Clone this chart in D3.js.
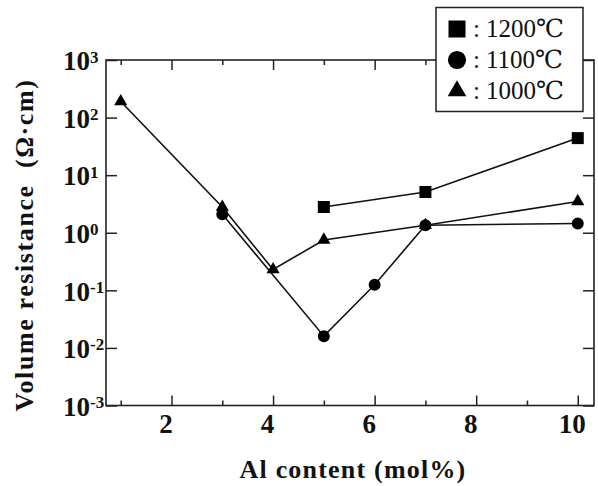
<!DOCTYPE html>
<html>
<head>
<meta charset="utf-8">
<script src="https://cdn.jsdelivr.net/npm/d3@7"></script>
<style>
  body { margin: 0; background: #fff; }
  svg { display: block; }
</style>
</head>
<body>
<div id="chart"></div>
<script>
// Valeurs
const series = ["1200℃", "1100℃", "1000℃"];
const x1200 = [5, 7, 10];
const v1200 = [2.8, 5.1, 44];
const x1100 = [3, 5, 6, 7, 10];
const v1100 = [2.1, 0.016, 0.125, 1.35, 1.45];
const x1000 = [1, 3, 4, 5, 7, 10];
const v1000 = [190, 2.8, 0.23, 0.75, 1.35, 3.5];
const xMajor = [2, 4, 6, 8, 10];
const xMinor = [1, 3, 5, 7, 9];
const yDecades = [-3, -2, -1, 0, 1, 2, 3];

const W = 598, H = 486;
const frame = { left: 106, right: 594, top: 60, bottom: 405.5 };
const serif = "'Liberation Serif', 'DejaVu Serif', serif";

const svg = d3.select("#chart").append("svg")
  .attr("width", W).attr("height", H);

svg.append("rect").attr("width", W).attr("height", H).attr("fill", "#fff");

const x = d3.scaleLinear().domain([0.71, 10.32]).range([frame.left, frame.right]);
const y = d3.scaleLog().domain([1e-3, 1e3]).range([frame.bottom, frame.top]);

// Cadre
svg.append("rect")
  .attr("x", frame.left).attr("y", frame.top)
  .attr("width", frame.right - frame.left)
  .attr("height", frame.bottom - frame.top)
  .attr("fill", "none").attr("stroke", "#222").attr("stroke-width", 1.6);

const styleAxis = (g) => {
  g.select(".domain").remove();
  g.selectAll(".tick line").attr("stroke", "#222").attr("stroke-width", 1.5);
};

// Axe X bas (graduations majeures avec libellés)
svg.append("g")
  .attr("transform", `translate(0,${frame.bottom})`)
  .call(d3.axisBottom(x).tickValues(xMajor).tickSize(-10).tickPadding(8).tickFormat(d3.format("d")))
  .call(styleAxis)
  .call((g) => g.selectAll(".tick text")
    .attr("x", -6)
    .attr("fill", "#111")
    .style("font-family", serif)
    .style("font-weight", "bold")
    .style("font-size", "27px"));

svg.append("g")
  .attr("transform", `translate(0,${frame.bottom})`)
  .call(d3.axisBottom(x).tickValues(xMinor).tickSize(-5).tickFormat(""))
  .call(styleAxis);

// Axe X haut
svg.append("g")
  .attr("transform", `translate(0,${frame.top})`)
  .call(d3.axisTop(x).tickValues(xMajor).tickSize(-10).tickFormat(""))
  .call(styleAxis);
svg.append("g")
  .attr("transform", `translate(0,${frame.top})`)
  .call(d3.axisTop(x).tickValues(xMinor).tickSize(-5).tickFormat(""))
  .call(styleAxis);

// Axe Y gauche avec libellés 10^n
const yLeft = svg.append("g")
  .attr("transform", `translate(${frame.left},0)`)
  .call(d3.axisLeft(y).tickValues(yDecades.map((e) => Math.pow(10, e))).tickSize(-11).tickFormat(""))
  .call(styleAxis);

yLeft.selectAll(".tick").each(function (d) {
  const e = Math.round(Math.log10(d));
  const t = d3.select(this).append("text")
    .attr("x", -43).attr("dy", "0.36em")
    .attr("text-anchor", "start")
    .attr("fill", "#111")
    .style("font-family", serif)
    .style("font-weight", "bold")
    .style("font-size", "27px");
  t.append("tspan").text("10");
  t.append("tspan")
    .attr("dy", "-0.45em")
    .style("font-size", "17px")
    .text(e < 0 ? "-" + Math.abs(e) : String(e));
});

// Axe Y droit
svg.append("g")
  .attr("transform", `translate(${frame.right},0)`)
  .call(d3.axisRight(y).tickValues(yDecades.map((e) => Math.pow(10, e))).tickSize(-11).tickFormat(""))
  .call(styleAxis);

// Titres des axes
svg.append("text")
  .attr("x", 353).attr("y", 478)
  .attr("text-anchor", "middle")
  .attr("fill", "#111")
  .style("font-family", serif)
  .style("font-weight", "bold")
  .style("font-size", "26px")
  .style("letter-spacing", "1.2px")
  .text("Al content (mol%)");

svg.append("text")
  .attr("transform", "translate(33,245) rotate(-90)")
  .attr("text-anchor", "middle")
  .attr("fill", "#111")
  .style("font-family", serif)
  .style("font-weight", "bold")
  .style("font-size", "26px")
  .style("letter-spacing", "1.6px")
  .text("Volume resistance\u00a0\u00a0(Ω·cm)");

// Séries
const allSeries = [
  { xs: x1200, vs: v1200, sym: d3.symbolSquare, size: 144, legSize: 289 },
  { xs: x1100, vs: v1100, sym: d3.symbolCircle, size: 113, legSize: 260 },
  { xs: x1000, vs: v1000, sym: d3.symbolTriangle, size: 75, legSize: 150 },
];

const line = d3.line().x((d) => x(d[0])).y((d) => y(d[1]));

allSeries.forEach((s) => {
  const pts = s.xs.map((xv, i) => [xv, s.vs[i]]);
  svg.append("path")
    .datum(pts)
    .attr("fill", "none")
    .attr("stroke", "#111")
    .attr("stroke-width", 1.6)
    .attr("d", line);
  svg.append("g").selectAll("path")
    .data(pts)
    .enter()
    .append("path")
    .attr("transform", (d) => `translate(${x(d[0])},${y(d[1])})`)
    .attr("d", d3.symbol().type(s.sym).size(s.size))
    .attr("fill", "#000");
});

// Légende
const legend = svg.append("g");
legend.append("rect")
  .attr("x", 436).attr("y", 7.5)
  .attr("width", 147).attr("height", 104)
  .attr("fill", "#fff").attr("stroke", "#222").attr("stroke-width", 1.5);

const rowY = [29, 60, 91];
allSeries.forEach((s, i) => {
  legend.append("path")
    .attr("transform", `translate(457,${rowY[i]})`)
    .attr("d", d3.symbol().type(s.sym).size(s.legSize))
    .attr("fill", "#000");
  legend.append("text")
    .attr("x", 473).attr("y", rowY[i] + 8)
    .attr("fill", "#111")
    .style("font-family", serif)
    .style("font-size", "25px")
    .text(":");
  legend.append("text")
    .attr("x", 486).attr("y", rowY[i] + 8)
    .attr("fill", "#111")
    .style("font-family", serif)
    .style("font-size", "25px")
    .text(series[i]);
});
</script>
</body>
</html>
